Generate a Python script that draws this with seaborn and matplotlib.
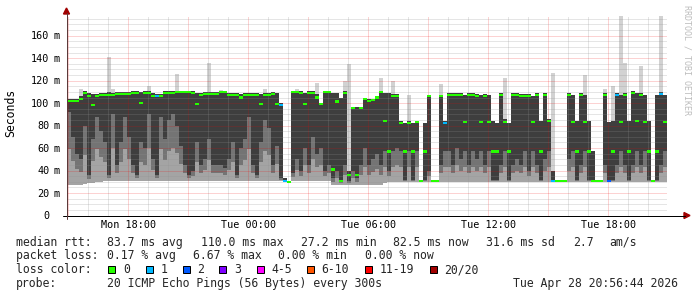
import numpy as np
import pandas as pd
import matplotlib
matplotlib.use("Agg")
import matplotlib.pyplot as plt
import matplotlib.transforms as mtransforms
from matplotlib.patches import Rectangle, Polygon
from matplotlib.lines import Line2D
import seaborn as sns

# ---------------- data ----------------
start_hour = 14 + 56 / 60          # Mon 14:56, hours since Mon 00:00
bin_hours = 0.2                    # each smoke column = 12 minutes

rtt_median = [
    102, 102, 102, 103.5, 109, 106, 98, 106, 107, 107,
    107, 107.5, 108, 108, 108, 108, 109, 109, 100, 109,
    109, 106, 106.7, 106, 109, 109, 109, 109.6, 109.6, 109.6,
    109.6, 109, 99, 107, 108, 108, 108, 108, 109.6, 109.6,
    107, 107, 107, 105, 107, 107, 107, 107, 99, 107,
    107, 108, 99, 98, 31, 30, 109.6, 109.6, 109, 99,
    109, 109, 105, 99, 109.6, 109.6, 41, 101.5, 31, 109,
    36, 96, 36, 96, 104, 102, 103, 105, 109.6, 84,
    57, 106, 106, 82, 57, 82, 57, 83, 31, 57,
    106, 31, 31, 106, 82, 107, 107, 107, 107, 83,
    107, 107, 106, 83, 106, 83, 57, 57, 107, 83,
    57, 107, 107, 106, 106, 106, 83, 107, 57, 107,
    84, 31, 31, 31, 31, 107, 83, 57, 107, 83,
    57, 31, 31, 31, 107, 31, 57, 107, 83, 107,
    57, 109, 84, 107, 83, 57, 31, 57, 108, 83]

rtt_q1 = [
    92, 70, 55, 50, 80, 36, 68, 88, 75, 65,
    36, 90, 45, 65, 88, 70, 45, 36, 65, 60,
    90, 50, 36, 88, 68, 85, 90, 80, 62, 45,
    36, 40, 65, 45, 50, 68, 45, 45, 45, 42,
    50, 65, 36, 60, 68, 88, 45, 36, 65, 85,
    78, 45, 62, 33, 30, 29.5, 38, 50, 40, 60,
    45, 70, 55, 60, 40, 45, 33, 40, 31, 45,
    31, 40, 33, 45, 60, 45, 50, 55, 45, 57,
    40, 57, 60, 57, 32, 57, 32, 57, 30, 32,
    40, 30, 30, 45, 57, 57, 45, 60, 50, 57,
    45, 57, 50, 57, 45, 57, 32, 32, 45, 57,
    32, 45, 50, 45, 57, 40, 57, 45, 32, 50,
    57, 30, 30, 30, 30, 50, 57, 32, 45, 57,
    32, 30, 30, 30, 45, 30, 32, 45, 57, 45,
    32, 45, 57, 45, 57, 32, 30, 32, 45, 57]

rtt_q3 = [
    104, 104, 104, 106, 111, 109, 108, 108, 109, 109,
    110, 109, 110, 110, 110, 110, 111, 111, 110, 111,
    111, 109, 108, 108, 111, 111, 111, 111, 111, 111,
    111, 111, 109, 109, 110, 110, 110, 110, 111, 111,
    109, 109, 109, 108, 109, 109, 109, 109, 108, 109,
    109, 110, 109, 100, 33, 31, 111, 111, 111, 109,
    111, 111, 108, 100, 111, 111, 109, 109, 105, 111,
    40, 97, 97, 97, 105, 104, 104, 106, 111, 109,
    109, 108, 108, 84, 82, 84, 82, 84, 32, 82,
    107, 32, 32, 107, 84, 109, 109, 109, 109, 107,
    109, 109, 108, 107, 108, 107, 84, 82, 109, 86,
    82, 109, 109, 108, 108, 108, 106, 109, 84, 109,
    86, 40, 32, 32, 32, 109, 107, 84, 109, 107,
    84, 57, 32, 32, 109, 83, 84, 109, 107, 109,
    84, 111, 109, 109, 107, 84, 32, 107, 110, 107]

rtt_min = [
    27, 27, 27, 27, 28, 29, 29, 30, 30, 30.5,
    30.5, 30.5, 30.5, 30.5, 30.5, 30.5, 30.5, 30.5, 30.5, 30.5,
    31, 31, 31, 31, 30.5, 30.5, 30.5, 30.5, 30.5, 30.5,
    30.5, 30.5, 30.5, 30.5, 30.5, 30.5, 30.5, 30.5, 30.5, 30.5,
    30.5, 30.5, 30.5, 30.5, 30.5, 30.5, 30.5, 30.5, 30.5, 30.5,
    30.5, 30.5, 30.5, 30.5, 29.5, 29.5, 30.5, 30.5, 30.5, 30.5,
    30.5, 30.5, 30.5, 30.5, 30.5, 30.5, 27, 27, 27, 27,
    27, 27, 27, 27, 27, 27, 27, 27, 27, 29,
    30, 30, 30, 30, 30, 30, 30, 30, 29.5, 30,
    30, 29.5, 29.5, 30, 30, 30, 30, 30, 30, 30,
    30, 30, 30, 30, 30, 30, 30, 30, 30, 30,
    30, 30, 30, 30, 30, 30, 30, 30, 30, 30,
    30, 29.5, 29.5, 29.5, 29.5, 30, 30, 30, 30, 30,
    30, 29.5, 29.5, 29.5, 30, 29.5, 30, 30, 30, 30,
    30, 30, 30, 30, 30, 30, 29.5, 30, 30, 30]

# outlier pings drawn as light smoke above the main body: {column: max rtt ms}
rtt_spikes = {3: 113, 10: 141, 11: 113, 20: 115, 27: 126, 35: 136, 38: 112,
              49: 113, 57: 113, 62: 118, 69: 120, 70: 135, 78: 122, 81: 120,
              85: 107, 93: 117, 109: 122, 121: 127, 129: 125, 134: 113,
              136: 115, 138: 178, 139: 136, 143: 133, 148: 178}

# packets lost per column (all other columns lost 0)
loss_by_bin = {22: "1", 53: "1", 54: "1", 94: "1", 121: "1", 135: "2",
               137: "1", 148: "1"}

x_tick_hours = [18, 24, 30, 36, 42]
x_tick_labels = ["Mon 18:00", "Tue 00:00", "Tue 06:00", "Tue 12:00", "Tue 18:00"]
y_tick_values = [0, 20, 40, 60, 80, 100, 120, 140, 160]
y_tick_unit = "m"

loss_labels = ["0", "1", "2", "3", "4-5", "6-10", "11-19", "20/20"]
loss_colors = ["#26ff00", "#00b8ff", "#0059ff", "#7e00ff", "#ff00ff",
               "#ff5500", "#ff0000", "#a10000"]

stats_rtt = ["median rtt:", "83.7 ms avg", "110.0 ms max", "27.2 ms min",
             "82.5 ms now", "31.6 ms sd", "2.7", "am/s"]
stats_loss = ["packet loss:", "0.17 % avg", "6.67 % max", "0.00 % min",
              "0.00 % now"]
probe_text = ["probe:", "20 ICMP Echo Pings (56 Bytes) every 300s",
              "Tue Apr 28 20:56:44 2026"]

# ---------------- drawing ----------------
sns.set_theme(style="white")
plt.rcParams["font.family"] = ["DejaVu Sans Mono", "DejaVu Sans"]

W, H = 697, 297
fig = plt.figure(figsize=(W / 100, H / 100), dpi=100, facecolor="white")
PX0, PX1, PY0, PY1 = 67, 667, 215.5, 15.5
ax = fig.add_axes([PX0 / W, 1 - PY0 / H, (PX1 - PX0) / W, (PY0 - PY1) / H])
ax.set_facecolor("white")
n = len(rtt_median)
ax.set_xlim(start_hour, start_hour + n * bin_hours)
ax.set_ylim(0, 178)
for s in ax.spines.values():
    s.set_visible(False)
ax.set_xticks([])
ax.set_yticks([])


def fx(px):
    return px / W


def fy(py):
    return 1 - py / H


df = pd.DataFrame({
    "left": start_hour + bin_hours * np.arange(n),
    "median": rtt_median, "q1": rtt_q1, "q3": rtt_q3, "lo": rtt_min,
})
df["mid"] = df["left"] + bin_hours / 2
df["loss"] = [loss_by_bin.get(i, "0") for i in range(n)]
df["spike"] = [rtt_spikes.get(i, np.nan) for i in range(n)]
df["half"] = (df["lo"] + df["q1"]) / 2

sp = df.dropna(subset=["spike"])
ax.bar(sp["left"], sp["spike"] - sp["q3"], bottom=sp["q3"], width=bin_hours,
       align="edge", color="#d2d2d2", linewidth=0, zorder=1.9)
ax.bar(df["left"], df["q3"] - df["lo"], bottom=df["lo"], width=bin_hours,
       align="edge", color="#a4a4a4", linewidth=0, zorder=2)
ax.bar(df["left"], df["q3"] - df["half"], bottom=df["half"], width=bin_hours,
       align="edge", color="#747474", linewidth=0, zorder=2.1)
ax.bar(df["left"], df["q3"] - df["q1"], bottom=df["q1"], width=bin_hours,
       align="edge", color="#3e3e3e", linewidth=0, zorder=2.2)

# grid (drawn over the smoke like rrdtool)
minor_c = (0.56, 0.56, 0.56, 0.45)
major_c = (0.94, 0.0, 0.0, 0.35)
for h in range(15, 45):
    ax.axvline(h, color=major_c if h % 3 == 0 else minor_c, lw=0.72,
               ls=(0, (1, 1)), zorder=4)
for v in range(5, 178, 5):
    ax.axhline(v, color=major_c if v % 20 == 0 else minor_c, lw=0.72,
               ls=(0, (1, 1)), zorder=4)

# median marks coloured by loss
palette = dict(zip(loss_labels, loss_colors))
mark = [(-1, -0.55), (1, -0.55), (1, 0.55), (-1, 0.55)]
sns.scatterplot(data=df, x="mid", y="median", hue="loss", palette=palette,
                marker=mark, s=(4 * 0.72) ** 2, linewidth=0, legend=False,
                ax=ax, zorder=5)
ax.set_xlabel("")
ax.set_ylabel("")
ax.set_xlim(start_hour, start_hour + n * bin_hours)
ax.set_ylim(0, 178)

# axes lines and arrows
fig.add_artist(Line2D([fx(63), fx(685)], [fy(215.5), fy(215.5)],
                      color="black", lw=0.72))
fig.add_artist(Line2D([fx(66.5), fx(66.5)], [fy(219), fy(13)],
                      color="#5b3a3a", lw=0.72))
fig.add_artist(Polygon([[fx(684), fy(212.5)], [fx(690), fy(215.5)],
                        [fx(684), fy(218.5)]], closed=True, color="#a00000",
                       transform=fig.transFigure))
fig.add_artist(Polygon([[fx(63.5), fy(14)], [fx(66.5), fy(8)],
                        [fx(69.5), fy(14)]], closed=True, color="#a00000",
                       transform=fig.transFigure))

# y tick labels
ytr = mtransforms.blended_transform_factory(fig.transFigure, ax.transData)
yoff = mtransforms.ScaledTranslation(0, -3.7 / 100, fig.dpi_scale_trans)
for v in y_tick_values:
    ax.text(fx(49.5), v, str(v), transform=ytr + yoff, ha="right",
            va="baseline", fontsize=7.3, color="black")
    if v != 0:
        ax.text(fx(53.3), v, y_tick_unit, transform=ytr + yoff, ha="left",
                va="baseline", fontsize=7.3, color="black")

# x tick labels
xtr = mtransforms.blended_transform_factory(ax.transData, fig.transFigure)
for h, lab in zip(x_tick_hours, x_tick_labels):
    ax.text(h, fy(228.3), lab, transform=xtr, ha="center", va="baseline",
            fontsize=7.3, color="black")

fig.text(fx(11), fy(113), "Seconds", rotation=90, ha="center", va="center",
         fontsize=8.3, color="black")
fig.text(fx(687), fy(60), "RRDTOOL / TOBI OETIKER", rotation=270,
         ha="center", va="center", fontsize=6, color="#bdbdbd")

# legend block
LFS = 8.3
for s, x in zip(stats_rtt, [16, 107, 200.7, 300.7, 393.3, 485.7, 573, 609.3]):
    fig.text(fx(x), fy(245.6), s, ha="left", va="baseline", fontsize=LFS)
for s, x in zip(stats_loss, [16, 107, 193.3, 278.3, 365]):
    fig.text(fx(x), fy(259.4), s, ha="left", va="baseline", fontsize=LFS)
fig.text(fx(16), fy(273.3), "loss color:", ha="left", va="baseline",
         fontsize=LFS)
sq_x = [108.3, 145.7, 182.7, 219.3, 256.7, 306.7, 365, 430]
for lab, col, x in zip(loss_labels, loss_colors, sq_x):
    fig.add_artist(Rectangle((fx(x), fy(273.3)), 7 / W, 7 / H,
                             transform=fig.transFigure, facecolor=col,
                             edgecolor="black", lw=0.72))
    fig.text(fx(x + 14.5), fy(273.3), lab, ha="left", va="baseline",
             fontsize=LFS)
for s, x in zip(probe_text, [16, 107, 513.3]):
    fig.text(fx(x), fy(287.2), s, ha="left", va="baseline", fontsize=LFS)

fig.savefig("out.png", dpi=100, facecolor="white")
